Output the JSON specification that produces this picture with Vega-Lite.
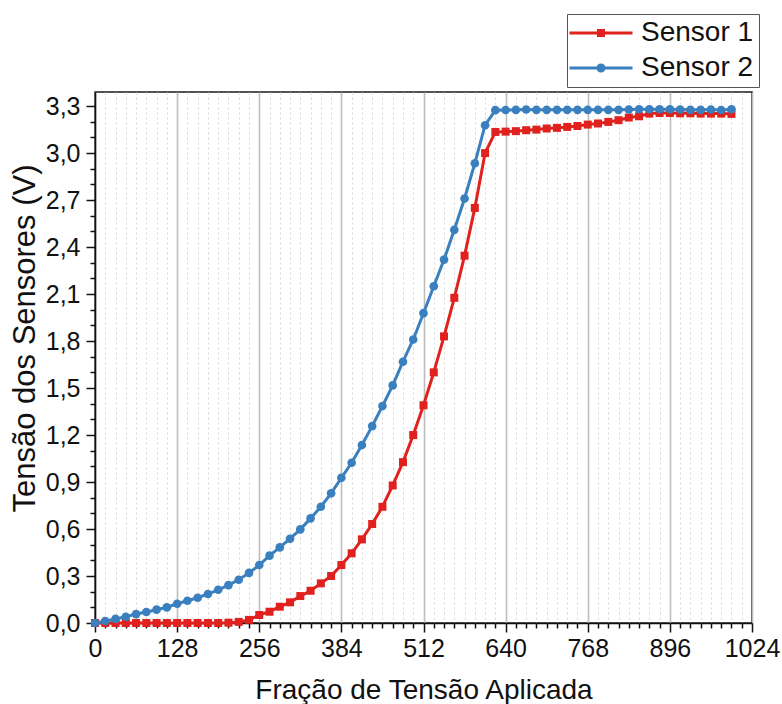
{
  "$schema": "https://vega.github.io/schema/vega-lite/v6.json",
  "width": 657,
  "height": 531,
  "autosize": {"type": "none"},
  "padding": {"left": 95, "top": 92, "right": 30, "bottom": 81},
  "background": "white",
  "config": {
    "font": "Liberation Sans",
    "view": {"stroke": "#1a1a1a", "strokeWidth": 1.5},
    "axis": {
      "domainColor": "#111",
      "domainWidth": 1.5,
      "tickColor": "#111",
      "tickWidth": 1.5,
      "labelColor": "#111",
      "labelFont": "Liberation Sans",
      "labelFontSize": 25,
      "titleFont": "Liberation Sans",
      "titleFontSize": 28,
      "titleFontWeight": "normal",
      "titleColor": "#111",
      "labelOverlap": false,
      "labelFlush": false,
      "labelBound": false
    }
  },
  "data": {
    "values": [
      {"frac": 0, "sensor": "Sensor 1", "volts": 0},
      {"frac": 16, "sensor": "Sensor 1", "volts": 0},
      {"frac": 32, "sensor": "Sensor 1", "volts": 0},
      {"frac": 48, "sensor": "Sensor 1", "volts": 0},
      {"frac": 64, "sensor": "Sensor 1", "volts": 0},
      {"frac": 80, "sensor": "Sensor 1", "volts": 0},
      {"frac": 96, "sensor": "Sensor 1", "volts": 0},
      {"frac": 112, "sensor": "Sensor 1", "volts": 0},
      {"frac": 128, "sensor": "Sensor 1", "volts": 0},
      {"frac": 144, "sensor": "Sensor 1", "volts": 0},
      {"frac": 160, "sensor": "Sensor 1", "volts": 0},
      {"frac": 176, "sensor": "Sensor 1", "volts": 0},
      {"frac": 192, "sensor": "Sensor 1", "volts": 0},
      {"frac": 208, "sensor": "Sensor 1", "volts": 0.002},
      {"frac": 224, "sensor": "Sensor 1", "volts": 0.007},
      {"frac": 240, "sensor": "Sensor 1", "volts": 0.02},
      {"frac": 256, "sensor": "Sensor 1", "volts": 0.051},
      {"frac": 272, "sensor": "Sensor 1", "volts": 0.072},
      {"frac": 288, "sensor": "Sensor 1", "volts": 0.104},
      {"frac": 304, "sensor": "Sensor 1", "volts": 0.132},
      {"frac": 320, "sensor": "Sensor 1", "volts": 0.172},
      {"frac": 336, "sensor": "Sensor 1", "volts": 0.206},
      {"frac": 352, "sensor": "Sensor 1", "volts": 0.253},
      {"frac": 368, "sensor": "Sensor 1", "volts": 0.3},
      {"frac": 384, "sensor": "Sensor 1", "volts": 0.37},
      {"frac": 400, "sensor": "Sensor 1", "volts": 0.445},
      {"frac": 416, "sensor": "Sensor 1", "volts": 0.534},
      {"frac": 432, "sensor": "Sensor 1", "volts": 0.632},
      {"frac": 448, "sensor": "Sensor 1", "volts": 0.742},
      {"frac": 464, "sensor": "Sensor 1", "volts": 0.878},
      {"frac": 480, "sensor": "Sensor 1", "volts": 1.027},
      {"frac": 496, "sensor": "Sensor 1", "volts": 1.2},
      {"frac": 512, "sensor": "Sensor 1", "volts": 1.39},
      {"frac": 528, "sensor": "Sensor 1", "volts": 1.6},
      {"frac": 544, "sensor": "Sensor 1", "volts": 1.83},
      {"frac": 560, "sensor": "Sensor 1", "volts": 2.076},
      {"frac": 576, "sensor": "Sensor 1", "volts": 2.345},
      {"frac": 592, "sensor": "Sensor 1", "volts": 2.65},
      {"frac": 608, "sensor": "Sensor 1", "volts": 3.0},
      {"frac": 624, "sensor": "Sensor 1", "volts": 3.135},
      {"frac": 640, "sensor": "Sensor 1", "volts": 3.137},
      {"frac": 656, "sensor": "Sensor 1", "volts": 3.14},
      {"frac": 672, "sensor": "Sensor 1", "volts": 3.146},
      {"frac": 688, "sensor": "Sensor 1", "volts": 3.15},
      {"frac": 704, "sensor": "Sensor 1", "volts": 3.157},
      {"frac": 720, "sensor": "Sensor 1", "volts": 3.161},
      {"frac": 736, "sensor": "Sensor 1", "volts": 3.167},
      {"frac": 752, "sensor": "Sensor 1", "volts": 3.173},
      {"frac": 768, "sensor": "Sensor 1", "volts": 3.182},
      {"frac": 784, "sensor": "Sensor 1", "volts": 3.189},
      {"frac": 800, "sensor": "Sensor 1", "volts": 3.199},
      {"frac": 816, "sensor": "Sensor 1", "volts": 3.21},
      {"frac": 832, "sensor": "Sensor 1", "volts": 3.227},
      {"frac": 848, "sensor": "Sensor 1", "volts": 3.235},
      {"frac": 864, "sensor": "Sensor 1", "volts": 3.252},
      {"frac": 880, "sensor": "Sensor 1", "volts": 3.256},
      {"frac": 896, "sensor": "Sensor 1", "volts": 3.256},
      {"frac": 912, "sensor": "Sensor 1", "volts": 3.254},
      {"frac": 928, "sensor": "Sensor 1", "volts": 3.254},
      {"frac": 944, "sensor": "Sensor 1", "volts": 3.252},
      {"frac": 960, "sensor": "Sensor 1", "volts": 3.252},
      {"frac": 976, "sensor": "Sensor 1", "volts": 3.252},
      {"frac": 992, "sensor": "Sensor 1", "volts": 3.25},
      {"frac": 0, "sensor": "Sensor 2", "volts": 0},
      {"frac": 16, "sensor": "Sensor 2", "volts": 0.013},
      {"frac": 32, "sensor": "Sensor 2", "volts": 0.026},
      {"frac": 48, "sensor": "Sensor 2", "volts": 0.04},
      {"frac": 64, "sensor": "Sensor 2", "volts": 0.057},
      {"frac": 80, "sensor": "Sensor 2", "volts": 0.07},
      {"frac": 96, "sensor": "Sensor 2", "volts": 0.085},
      {"frac": 112, "sensor": "Sensor 2", "volts": 0.1},
      {"frac": 128, "sensor": "Sensor 2", "volts": 0.123},
      {"frac": 144, "sensor": "Sensor 2", "volts": 0.142},
      {"frac": 160, "sensor": "Sensor 2", "volts": 0.161},
      {"frac": 176, "sensor": "Sensor 2", "volts": 0.185},
      {"frac": 192, "sensor": "Sensor 2", "volts": 0.212},
      {"frac": 208, "sensor": "Sensor 2", "volts": 0.242},
      {"frac": 224, "sensor": "Sensor 2", "volts": 0.276},
      {"frac": 240, "sensor": "Sensor 2", "volts": 0.32},
      {"frac": 256, "sensor": "Sensor 2", "volts": 0.37},
      {"frac": 272, "sensor": "Sensor 2", "volts": 0.43},
      {"frac": 288, "sensor": "Sensor 2", "volts": 0.483},
      {"frac": 304, "sensor": "Sensor 2", "volts": 0.538},
      {"frac": 320, "sensor": "Sensor 2", "volts": 0.598},
      {"frac": 336, "sensor": "Sensor 2", "volts": 0.668},
      {"frac": 352, "sensor": "Sensor 2", "volts": 0.742},
      {"frac": 368, "sensor": "Sensor 2", "volts": 0.828},
      {"frac": 384, "sensor": "Sensor 2", "volts": 0.927},
      {"frac": 400, "sensor": "Sensor 2", "volts": 1.023},
      {"frac": 416, "sensor": "Sensor 2", "volts": 1.136},
      {"frac": 432, "sensor": "Sensor 2", "volts": 1.257},
      {"frac": 448, "sensor": "Sensor 2", "volts": 1.385},
      {"frac": 464, "sensor": "Sensor 2", "volts": 1.517},
      {"frac": 480, "sensor": "Sensor 2", "volts": 1.668},
      {"frac": 496, "sensor": "Sensor 2", "volts": 1.81},
      {"frac": 512, "sensor": "Sensor 2", "volts": 1.978},
      {"frac": 528, "sensor": "Sensor 2", "volts": 2.15},
      {"frac": 544, "sensor": "Sensor 2", "volts": 2.32},
      {"frac": 560, "sensor": "Sensor 2", "volts": 2.51},
      {"frac": 576, "sensor": "Sensor 2", "volts": 2.71},
      {"frac": 592, "sensor": "Sensor 2", "volts": 2.935},
      {"frac": 608, "sensor": "Sensor 2", "volts": 3.178},
      {"frac": 624, "sensor": "Sensor 2", "volts": 3.274},
      {"frac": 640, "sensor": "Sensor 2", "volts": 3.275},
      {"frac": 656, "sensor": "Sensor 2", "volts": 3.276},
      {"frac": 672, "sensor": "Sensor 2", "volts": 3.278},
      {"frac": 688, "sensor": "Sensor 2", "volts": 3.276},
      {"frac": 704, "sensor": "Sensor 2", "volts": 3.276},
      {"frac": 720, "sensor": "Sensor 2", "volts": 3.276},
      {"frac": 736, "sensor": "Sensor 2", "volts": 3.276},
      {"frac": 752, "sensor": "Sensor 2", "volts": 3.276},
      {"frac": 768, "sensor": "Sensor 2", "volts": 3.276},
      {"frac": 784, "sensor": "Sensor 2", "volts": 3.276},
      {"frac": 800, "sensor": "Sensor 2", "volts": 3.276},
      {"frac": 816, "sensor": "Sensor 2", "volts": 3.276},
      {"frac": 832, "sensor": "Sensor 2", "volts": 3.278},
      {"frac": 848, "sensor": "Sensor 2", "volts": 3.28},
      {"frac": 864, "sensor": "Sensor 2", "volts": 3.28},
      {"frac": 880, "sensor": "Sensor 2", "volts": 3.28},
      {"frac": 896, "sensor": "Sensor 2", "volts": 3.28},
      {"frac": 912, "sensor": "Sensor 2", "volts": 3.278},
      {"frac": 928, "sensor": "Sensor 2", "volts": 3.276},
      {"frac": 944, "sensor": "Sensor 2", "volts": 3.276},
      {"frac": 960, "sensor": "Sensor 2", "volts": 3.278},
      {"frac": 976, "sensor": "Sensor 2", "volts": 3.275},
      {"frac": 992, "sensor": "Sensor 2", "volts": 3.28}
    ]
  },
  "encoding": {
    "x": {
      "field": "frac",
      "type": "quantitative",
      "scale": {"domain": [0, 1024], "nice": false, "zero": false},
      "axis": {
        "title": "Fração de Tensão Aplicada",
        "values": [0,16,32,48,64,80,96,112,128,144,160,176,192,208,224,240,256,272,288,304,320,336,352,368,384,400,416,432,448,464,480,496,512,528,544,560,576,592,608,624,640,656,672,688,704,720,736,752,768,784,800,816,832,848,864,880,896,912,928,944,960,976,992,1008,1024],
        "format": "d",
        "labelExpr": "datum.value % 128 == 0 ? datum.label : ''",
        "tickSize": {"condition": {"test": "datum.value % 128 == 0", "value": 9}, "value": 5},
        "labelPadding": 4,
        "titlePadding": 15,
        "grid": true,
        "gridColor": {"condition": {"test": "datum.value % 128 == 0", "value": "#bdbdbd"}, "value": "#d6d6d6"},
        "gridDash": {"condition": {"test": "datum.value % 128 == 0", "value": []}, "value": [2, 3]},
        "gridWidth": {"condition": {"test": "datum.value % 128 == 0", "value": 1.6}, "value": 1}
      }
    },
    "y": {
      "field": "volts",
      "type": "quantitative",
      "scale": {"domain": [0, 3.39], "nice": false},
      "axis": {
        "title": "Tensão dos Sensores (V)",
        "titleFontSize": 31,
        "titleY": 246,
        "values": [0,0.1,0.2,0.3,0.4,0.5,0.6,0.7,0.8,0.9,1.0,1.1,1.2,1.3,1.4,1.5,1.6,1.7,1.8,1.9,2.0,2.1,2.2,2.3,2.4,2.5,2.6,2.7,2.8,2.9,3.0,3.1,3.2,3.3],
        "labelExpr": "abs(datum.value*10/3 - round(datum.value*10/3)) < 0.01 ? replace(format(datum.value, '.1f'), '.', ',') : ''",
        "tickSize": {"condition": {"test": "abs(datum.value*10/3 - round(datum.value*10/3)) < 0.01", "value": 9}, "value": 5},
        "labelPadding": 6,
        "titlePadding": 4,
        "grid": false
      }
    }
  },
  "layer": [
    {
      "transform": [{"filter": "datum.sensor == 'Sensor 1'"}],
      "mark": {"type": "line", "color": "#e0211d", "strokeWidth": 3}
    },
    {
      "transform": [{"filter": "datum.sensor == 'Sensor 1'"}],
      "mark": {"type": "point", "shape": "square", "filled": true, "color": "#e0211d", "size": 64, "opacity": 1}
    },
    {
      "transform": [{"filter": "datum.sensor == 'Sensor 2'"}],
      "mark": {"type": "line", "color": "#3a80bf", "strokeWidth": 3}
    },
    {
      "transform": [{"filter": "datum.sensor == 'Sensor 2'"}],
      "mark": {"type": "point", "shape": "circle", "filled": true, "color": "#3a80bf", "size": 75, "opacity": 1}
    },
    {
      "mark": {"type": "point", "filled": true, "opacity": 0},
      "encoding": {
        "color": {
          "field": "sensor",
          "type": "nominal",
          "scale": {"domain": ["Sensor 1", "Sensor 2"], "range": ["#e0211d", "#3a80bf"]},
          "legend": {
            "title": null,
            "orient": "none",
            "legendX": 472,
            "legendY": -78,
            "fillColor": "white",
            "strokeColor": "#555",
            "padding": 5,
            "labelFontSize": 28,
            "labelFont": "Liberation Sans",
            "labelColor": "#111",
            "symbolSize": 196,
            "symbolOpacity": 1,
            "symbolOffset": 15,
            "labelOffset": 26,
            "rowPadding": 7
          }
        },
        "shape": {
          "field": "sensor",
          "type": "nominal",
          "scale": {
            "domain": ["Sensor 1", "Sensor 2"],
            "range": [
              "M-4.5,-0.21H4.5V0.21H-4.5Z M-0.57,-0.57H0.57V0.57H-0.57Z",
              "M-4.5,-0.21H4.5V0.21H-4.5Z M0.65,0A0.65,0.65,0,1,1,-0.65,0A0.65,0.65,0,1,1,0.65,0Z"
            ]
          },
          "legend": {
            "title": null,
            "orient": "none",
            "legendX": 472,
            "legendY": -78,
            "fillColor": "white",
            "strokeColor": "#555",
            "padding": 5,
            "labelFontSize": 28,
            "labelFont": "Liberation Sans",
            "labelColor": "#111",
            "symbolSize": 196,
            "symbolOpacity": 1,
            "symbolOffset": 15,
            "labelOffset": 26,
            "rowPadding": 7
          }
        }
      }
    }
  ]
}
